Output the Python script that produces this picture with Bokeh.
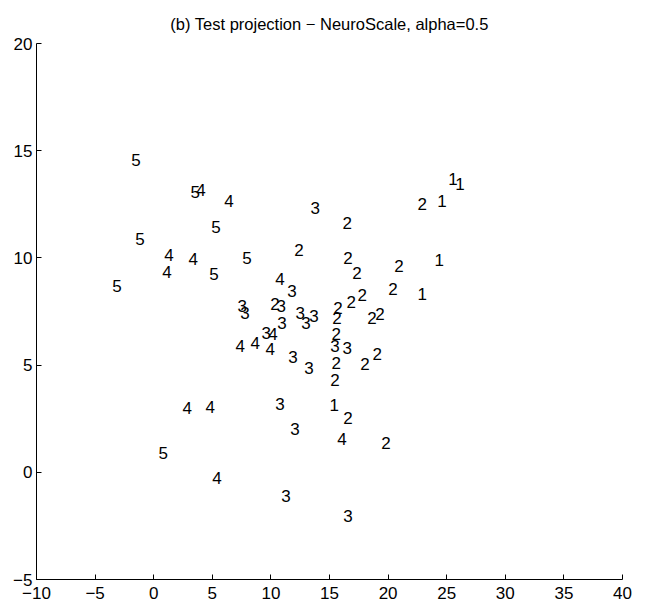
from bokeh.plotting import figure
from bokeh.models import ColumnDataSource, Range1d, FixedTicker
from bokeh.embed import file_html
from bokeh.resources import INLINE
from bokeh.core.properties import value

labels = ["5", "5", "4", "4", "5", "5", "4", "4", "5", "4", "5", "5",
          "3", "2", "2", "1", "1", "1", "2", "2", "2", "2", "1", "4",
          "3", "2", "1", "2", "2", "3", "3", "2", "3", "3", "3", "3",
          "2", "2", "2", "2", "3", "3", "4", "2", "4", "4", "4", "3",
          "3", "3", "2", "2", "2", "3", "2", "4", "4", "3", "1", "2",
          "3", "4", "2", "5", "4", "3", "3"]
xs = [-1.91, 3.13, 3.64, 6.03, 4.92, -1.57, 0.91, 2.96, 7.56, 0.74, 4.75, -3.53,
      13.37, 16.10, 22.50, 24.20, 25.14, 25.74, 12.00, 16.18, 16.95, 20.53, 23.95, 10.38,
      11.40, 20.02, 22.50, 17.38, 16.44, 7.14, 7.39, 9.95, 10.47, 12.09, 13.28, 12.60,
      15.33, 15.24, 18.23, 18.91, 10.55, 9.19, 9.78, 15.16, 6.97, 8.25, 9.53, 15.07,
      16.10, 11.49, 15.16, 17.63, 18.66, 12.85, 15.07, 2.45, 4.41, 10.38, 14.99, 16.18,
      11.66, 15.67, 19.42, 0.40, 5.00, 10.89, 16.18]
ys = [14.58, 13.08, 13.18, 12.66, 11.45, 10.89, 10.14, 9.95, 10.00, 9.35, 9.25, 8.69,
      12.34, 11.64, 12.52, 12.66, 13.69, 13.46, 10.37, 10.00, 9.30, 9.63, 9.91, 9.02,
      8.46, 8.55, 8.32, 8.27, 7.94, 7.76, 7.43, 7.85, 7.76, 7.43, 7.29, 6.96,
      7.66, 7.20, 7.20, 7.38, 6.96, 6.50, 6.45, 6.45, 5.89, 6.03, 5.75, 5.89,
      5.79, 5.37, 5.09, 5.05, 5.51, 4.86, 4.30, 2.99, 3.04, 3.18, 3.13, 2.52,
      2.01, 1.54, 1.36, 0.89, -0.28, -1.12, -2.06]

x_ticks = [-10, -5, 0, 5, 10, 15, 20, 25, 30, 35, 40]
y_ticks = [-5, 0, 5, 10, 15, 20]
title_text = "(b) Test projection \u2212 NeuroScale, alpha=0.5"

FONT = "Liberation Sans"

src = ColumnDataSource(dict(x=xs, y=ys, label=labels))

p = figure(width=648, height=610, output_backend="svg", toolbar_location=None,
           x_range=Range1d(-10, 40), y_range=Range1d(-5, 20),
           min_border_left=36, min_border_right=26, min_border_top=43,
           min_border_bottom=31, title=title_text)

p.title.text_font = FONT
p.title.text_font_size = "16.5px"
p.title.text_font_style = "normal"
p.title.align = "center"
p.title.text_color = "black"
p.title.standoff = 21

p.text(x="x", y="y", text="label", source=src, text_font=value(FONT),
       text_font_size="17px", text_align="left", text_baseline="middle",
       text_color="black")

p.outline_line_color = None
p.xgrid.grid_line_color = None
p.ygrid.grid_line_color = None
p.background_fill_color = "white"
p.border_fill_color = "white"

for ax in (p.xaxis[0], p.yaxis[0]):
    ax.axis_line_color = "black"
    ax.major_tick_line_color = "black"
    ax.major_tick_in = 5
    ax.major_tick_out = 0
    ax.minor_tick_line_color = None
    ax.major_label_text_font = FONT
    ax.major_label_text_font_size = "17px"
    ax.major_label_text_color = "black"

p.xaxis[0].ticker = FixedTicker(ticks=x_ticks)
p.yaxis[0].ticker = FixedTicker(ticks=y_ticks)
p.xaxis[0].major_label_overrides = {t: (str(t).replace("-", "\u2212")) for t in x_ticks}
p.yaxis[0].major_label_overrides = {t: (str(t).replace("-", "\u2212")) for t in y_ticks}
p.xaxis[0].major_label_standoff = 7
p.yaxis[0].major_label_standoff = 4

open("out.html", "w").write(file_html(p, INLINE))
